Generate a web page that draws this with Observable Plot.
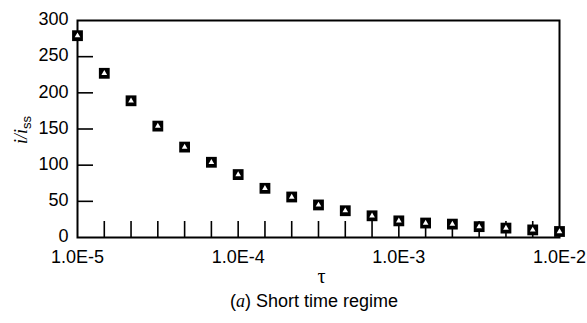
<!DOCTYPE html>
<html><head><meta charset="utf-8">
<script src="https://cdn.jsdelivr.net/npm/d3@7"></script>
<script src="https://cdn.jsdelivr.net/npm/@observablehq/plot@0.6"></script>
<style>
body{margin:0;background:#fff;width:587px;height:323px;overflow:hidden;}
#cap{font:18px "Liberation Sans",Arial,sans-serif;color:#000;height:37px;line-height:30px;padding-left:230px;white-space:nowrap;}
#cap i{font-family:"Liberation Serif","Times New Roman",serif;font-size:18px;}
</style>
</head><body><div id="chart"></div><div id="cap">(<i>a</i>) Short time regime</div>
<script>
const tau = [1.0e-5, 1.468e-5, 2.154e-5, 3.162e-5, 4.642e-5, 6.813e-5, 1.0e-4, 1.468e-4, 2.154e-4, 3.162e-4, 4.642e-4, 6.813e-4, 1.0e-3, 1.468e-3, 2.154e-3, 3.162e-3, 4.642e-3, 6.813e-3, 1.0e-2];
const current = [279, 227, 189, 154, 125, 104, 87, 68, 56, 45, 37, 30, 23, 20, 18.5, 15, 13, 10.5, 8.3];
const xTicks = [1e-5, 1e-4, 1e-3, 1e-2];
const xTickLabels = ["1.0E-5", "1.0E-4", "1.0E-3", "1.0E-2"];
const yTicks = [0, 50, 100, 150, 200, 250, 300];
const yInnerTicks = [50, 100, 150, 200, 250];
const minorTicks = tau.slice(1, -1);
const xLabel = "τ";

const rows = tau.map((t, i) => ({t, v: current[i]}));
const W = 587, H = 286, mL = 77, mR = 28, mT = 20, mB = H - 237;
const fw = W - mL - mR, fh = H - mT - mB;

const chart = Plot.plot({
  width: W, height: H,
  marginLeft: mL, marginRight: mR, marginTop: mT, marginBottom: mB,
  style: {fontFamily: '"Liberation Sans", Arial, sans-serif', fontSize: "18px", background: "white", color: "black"},
  x: {type: "log", domain: [1e-5, 1e-2]},
  y: {domain: [0, 300]},
  marks: [
    Plot.axisX(xTicks, {tickSize: 0, tickPadding: 13, tickFormat: d => xTickLabels[xTicks.indexOf(d)], label: null}),
    Plot.axisY(yTicks, {tickSize: 0, tickPadding: 9, dy: -1, label: null}),
    Plot.tickX(minorTicks, {x: d => d, insetTop: fh - 16, stroke: "black", strokeWidth: 1.6}),
    Plot.tickY(yInnerTicks, {y: d => d, insetRight: fw - 16, stroke: "black", strokeWidth: 1.6}),
    Plot.frame({stroke: "black", strokeWidth: 2}),
    Plot.dot(rows, {x: "t", y: "v", symbol: "square", r: 6.1, fill: "black", stroke: null}),
    Plot.dot(rows, {x: "t", y: "v", symbol: "triangle", r: 2.1, fill: "white", stroke: null}),
    Plot.text([xLabel], {frameAnchor: "bottom", dx: 3, dy: 45, fontFamily: '"Liberation Serif", "Times New Roman", serif', fontSize: 20})
  ]
});
document.getElementById("chart").appendChild(chart);

const svg = d3.select(chart);
const yl = svg.append("text")
  .attr("transform", "translate(27,130) rotate(-90)")
  .attr("text-anchor", "middle")
  .attr("fill", "black")
  .style("font-size", "18px");
yl.append("tspan").attr("font-family", '"Liberation Serif", "Times New Roman", serif').attr("font-style", "italic").text("i/i");
yl.append("tspan").attr("font-family", '"Liberation Sans", Arial, sans-serif').attr("font-size", "13px").attr("dy", "4").text("ss");
</script>
</body></html>
